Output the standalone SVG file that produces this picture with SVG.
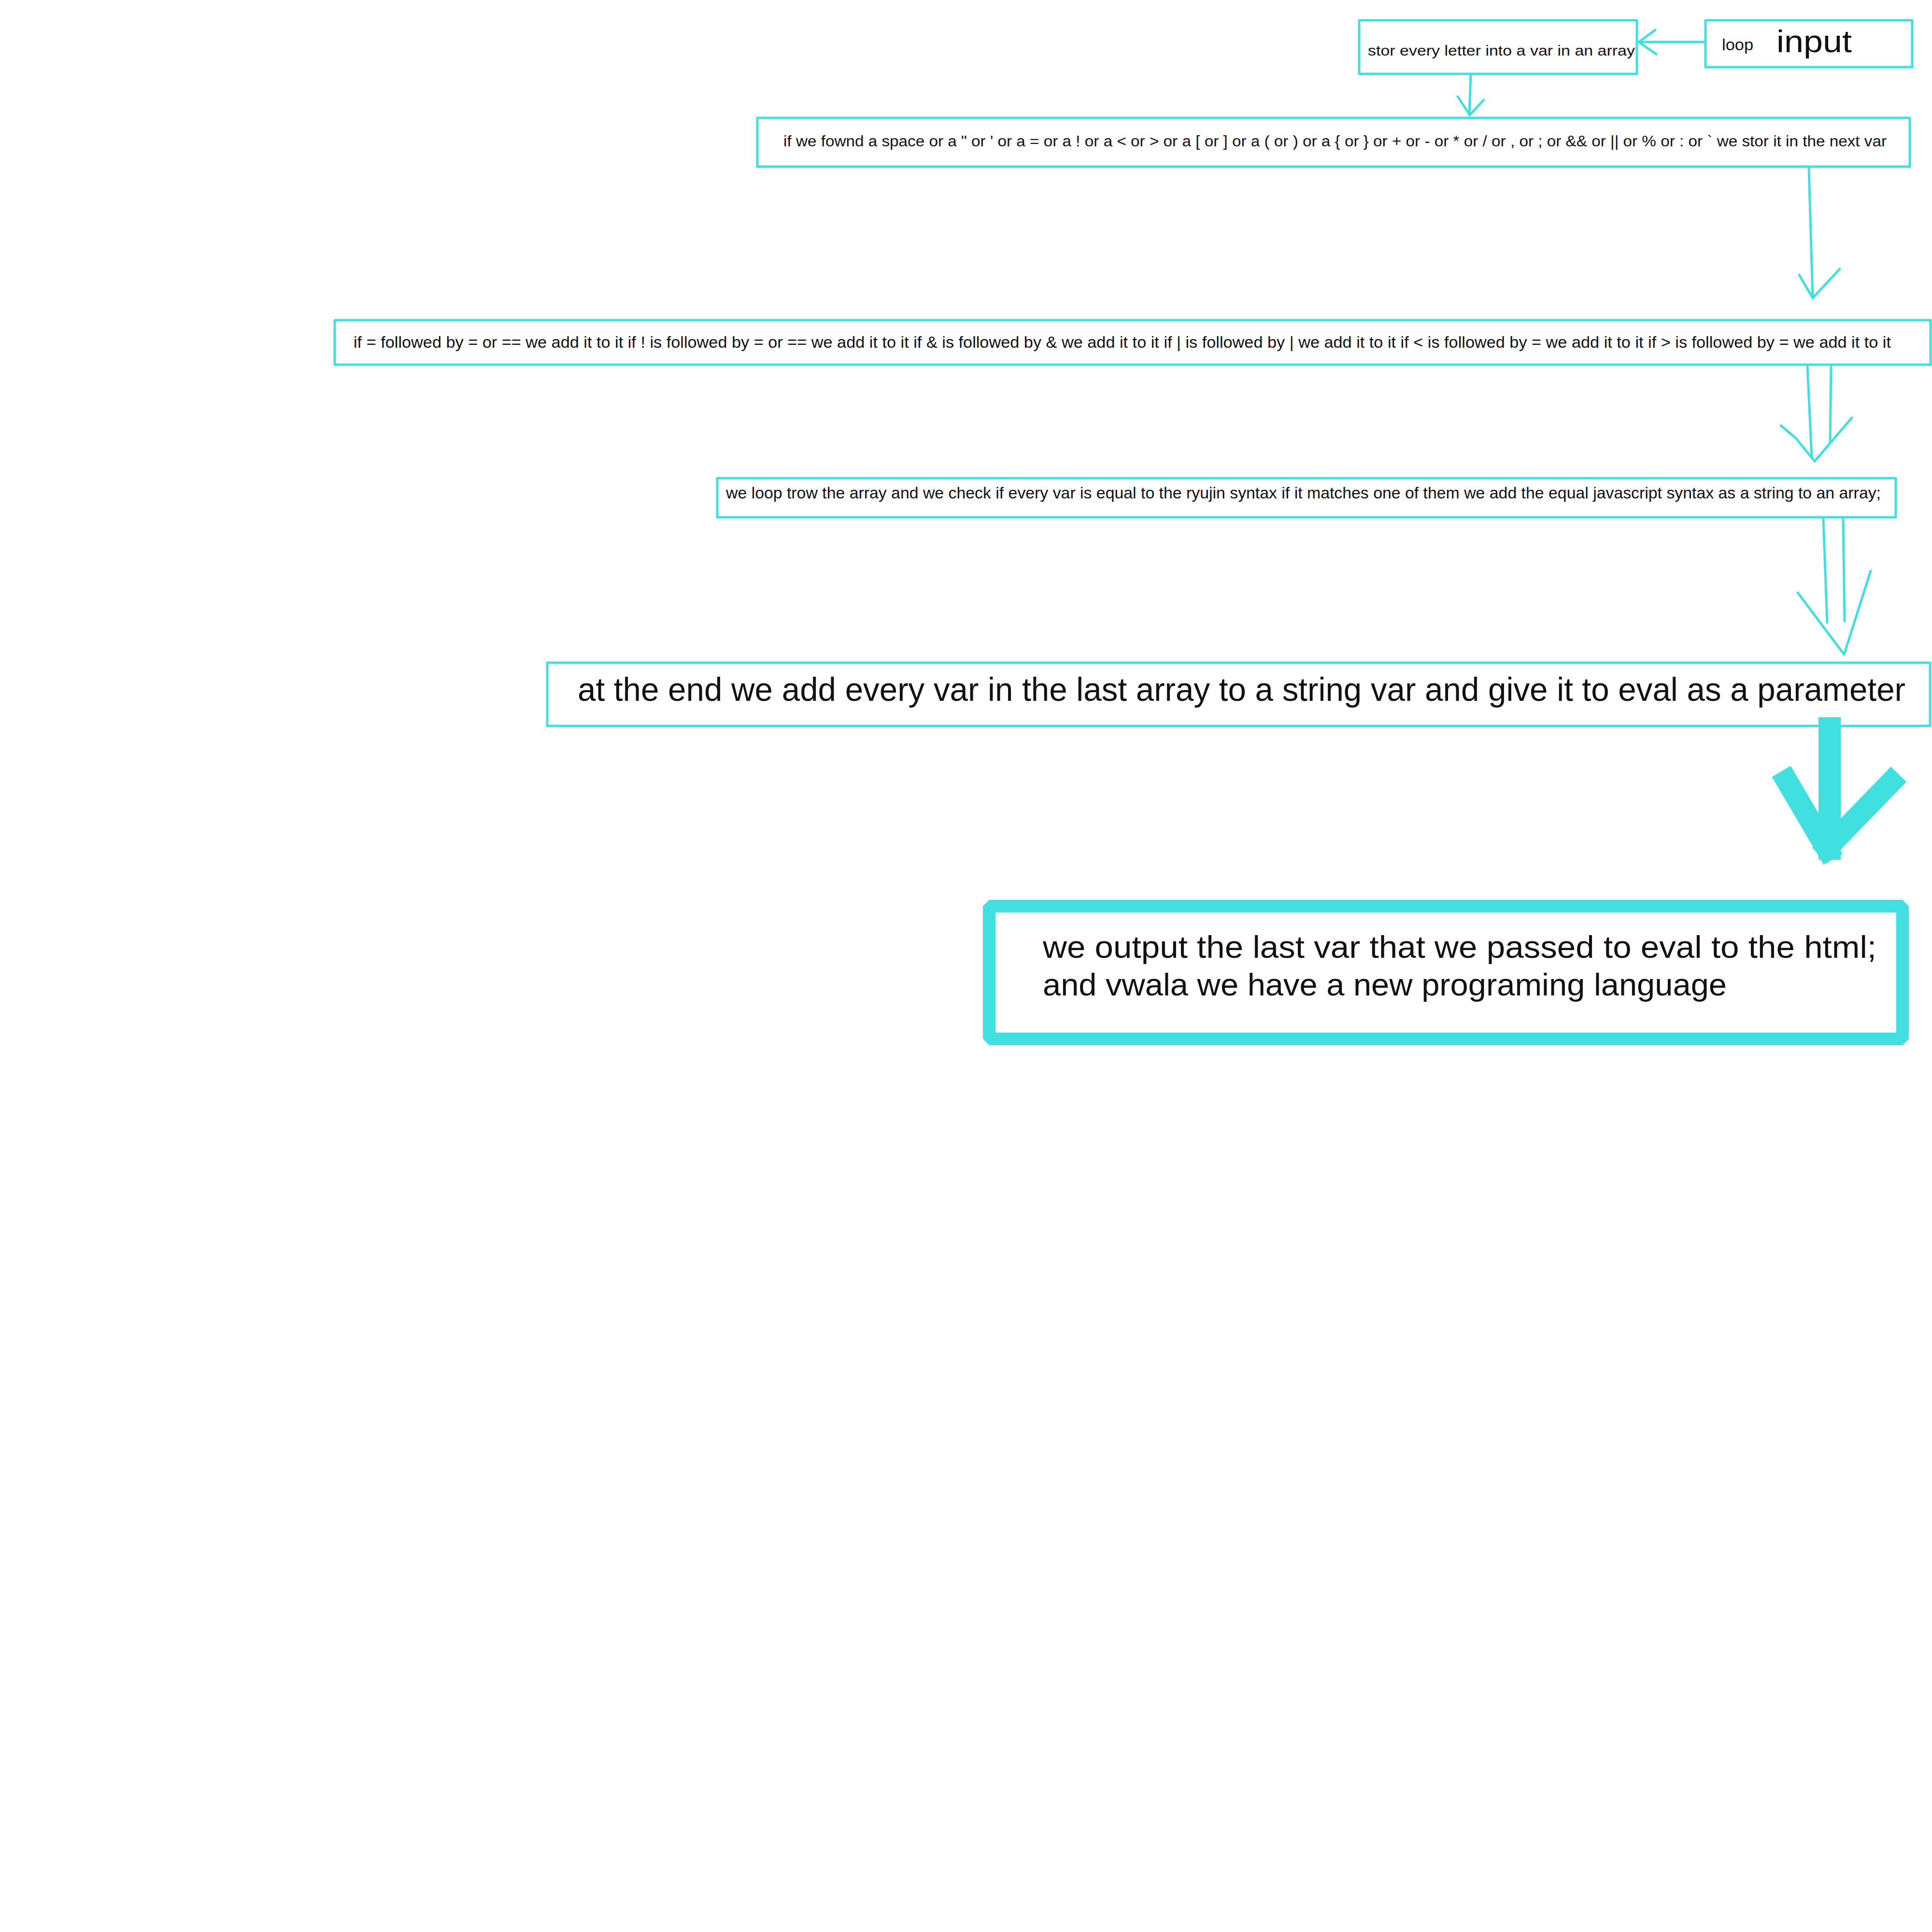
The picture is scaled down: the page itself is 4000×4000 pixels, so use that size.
<svg xmlns="http://www.w3.org/2000/svg" width="4000" height="4000" viewBox="0 0 4000 4000">
<style>
.box{fill:none;stroke:#41e0e0;stroke-width:5;stroke-linejoin:round}
.c{fill:none;stroke:#41e0e0;stroke-width:5;stroke-linecap:round;stroke-linejoin:round}
.t{font-family:"Liberation Sans","Noto Sans",Arial,sans-serif;fill:#111}
</style>
<rect width="4000" height="4000" fill="#ffffff"/>
<g id="node-input">
<rect class="box" x="3531" y="42" width="428" height="97"/>
<text class="t" x="3565" y="104" font-size="34" textLength="65" lengthAdjust="spacingAndGlyphs">loop</text>
<text class="t" x="3678" y="108" font-size="64" textLength="156" lengthAdjust="spacingAndGlyphs">input</text>
</g>
<g id="node-store">
<rect class="box" x="2814" y="42" width="575" height="111"/>
<text class="t" x="2832" y="115" font-size="29" textLength="553" lengthAdjust="spacingAndGlyphs">stor every letter into a var in an array</text>
</g>
<g id="node-split">
<rect class="box" x="1568" y="244" width="2386" height="101"/>
<text class="t" x="1622" y="303" font-size="31" textLength="2284" lengthAdjust="spacingAndGlyphs">if we fownd a space or a " or ' or a = or a ! or a &lt; or &gt; or a [ or ] or a ( or ) or a { or } or + or - or * or / or , or ; or &amp;&amp; or || or % or : or ` we stor it in the next var</text>
</g>
<g id="node-merge">
<rect class="box" x="693" y="663" width="3304" height="92"/>
<text class="t" x="732" y="720" font-size="33" textLength="3183" lengthAdjust="spacingAndGlyphs">if = followed by = or == we add it to it if ! is followed by = or == we add it to it if &amp; is followed by &amp; we add it to it if | is followed by | we add it to it if &lt; is followed by = we add it to it if &gt; is followed by = we add it to it</text>
</g>
<g id="node-translate">
<rect class="box" x="1485" y="990" width="2440" height="81"/>
<text class="t" x="1503" y="1032" font-size="34" textLength="2391" lengthAdjust="spacingAndGlyphs">we loop trow the array and we check if every var is equal to the ryujin syntax if it matches one of them we add the equal javascript syntax as a string to an array;</text>
</g>
<g id="node-eval">
<rect class="box" x="1133" y="1372" width="2863" height="131"/>
<text class="t" x="1196" y="1451" font-size="68" textLength="2749" lengthAdjust="spacingAndGlyphs">at the end we add every var in the last array to a string var and give it to eval as a parameter</text>
</g>
<g id="node-output">
<rect x="2048" y="1876" width="1891" height="275" fill="none" stroke="#41e0e0" stroke-width="26" stroke-linejoin="bevel"/>
<text class="t" x="2159" y="1983" font-size="64" textLength="1726" lengthAdjust="spacingAndGlyphs">we output the last var that we passed to eval to the html;</text>
<text class="t" x="2159" y="2061" font-size="64" textLength="1416" lengthAdjust="spacingAndGlyphs">and vwala we have a new programing language</text>
</g>
<g id="connectors">
<line class="c" x1="3531" y1="87" x2="3393" y2="87"/>
<polyline class="c" points="3427,62 3393,87 3429,112"/>
<line class="c" x1="3045" y1="153" x2="3042" y2="238"/>
<polyline class="c" points="3018,200 3043,238 3072,207"/>
<line class="c" x1="3745" y1="347" x2="3753" y2="617"/>
<polyline class="c" points="3725,569 3753,617 3809,557"/>
<line class="c" x1="3742" y1="759" x2="3751" y2="946"/>
<line class="c" x1="3791" y1="759" x2="3789" y2="916"/>
<polyline class="c" points="3687,881 3718,907 3757,955 3834,865"/>
<line class="c" x1="3775" y1="1075" x2="3783" y2="1289"/>
<line class="c" x1="3816" y1="1075" x2="3819" y2="1286"/>
<polyline class="c" points="3722,1227 3818,1355 3873,1182"/>
<line x1="3788" y1="1485" x2="3788" y2="1780" stroke="#41e0e0" stroke-width="46"/>
<line x1="3688" y1="1597" x2="3795" y2="1779" stroke="#41e0e0" stroke-width="45"/>
<line x1="3931" y1="1603" x2="3768" y2="1771" stroke="#41e0e0" stroke-width="45"/>
</g>
</svg>
